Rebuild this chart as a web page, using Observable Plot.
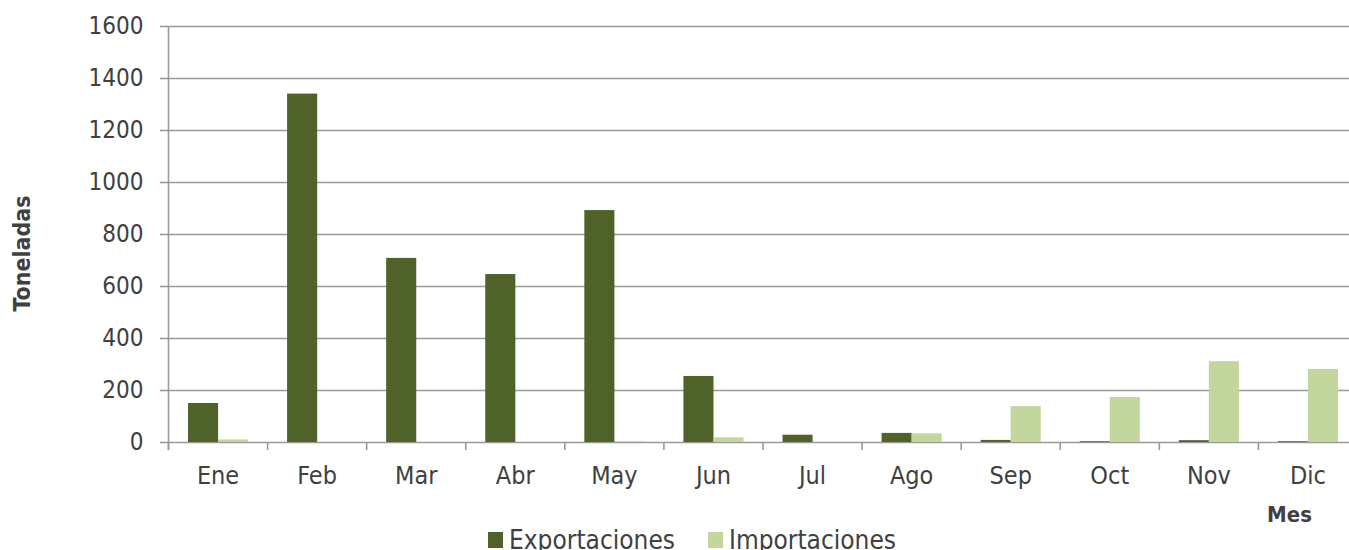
<!DOCTYPE html>
<html>
<head>
<meta charset="utf-8">
<script src="https://cdn.jsdelivr.net/npm/d3@7"></script>
<script src="https://cdn.jsdelivr.net/npm/@observablehq/plot@0.6"></script>
<style>
  html, body { margin: 0; padding: 0; background: #fff; overflow: hidden; }
  #chart { width: 1349px; height: 528px; overflow: hidden; }
  #chart svg { max-width: none !important; }
  #legend { position: relative; height: 30px; font-family: "DejaVu Sans Condensed", "DejaVu Sans", sans-serif; font-stretch: condensed; font-size: 26px; color: #404040; }
  .item { position: absolute; top: -2px; display: flex; align-items: center; height: 28px; }
  .sw { width: 15px; height: 16px; margin-right: 6px; }
</style>
</head>
<body>
<div id="chart"></div>
<div id="legend"></div>
<script>
const months = ["Ene","Feb","Mar","Abr","May","Jun","Jul","Ago","Sep","Oct","Nov","Dic"];
const exportaciones = [150, 1340, 708, 646, 892, 254, 28, 35, 8, 3, 7, 3];
const importaciones = [10, 0, 0, 0, 3, 18, 0, 33, 138, 173, 311, 281];
const yTicks = [0, 200, 400, 600, 800, 1000, 1200, 1400, 1600];
const series = ["Exportaciones", "Importaciones"];
const colors = ["#4F6228", "#C3D69B"];

const expData = months.map((m, i) => ({i, month: m, value: exportaciones[i]}));
const impData = months.map((m, i) => ({i, month: m, value: importaciones[i]}));
const bounds = d3.range(months.length + 1);
const centers = months.map((m, i) => i + 0.5);

const font = "'DejaVu Sans Condensed', 'DejaVu Sans', sans-serif";
const grid = "#9a9a9a";

const plot = Plot.plot({
  width: 1357,
  height: 528,
  marginLeft: 168,
  marginRight: 0,
  marginTop: 26,
  marginBottom: 86,
  style: {fontFamily: font, fontStretch: "condensed", fontSize: "24px", color: "#404040", background: "transparent", maxWidth: "none"},
  x: {type: "linear", domain: [0, months.length]},
  y: {domain: [0, 1600]},
  marks: [
    Plot.ruleY(yTicks, {stroke: grid, strokeWidth: 1.6}),
    Plot.rectY(expData, {x1: d => d.i, x2: d => d.i + 1, y: "value", fill: colors[0], insetLeft: 20, insetRight: 49}),
    Plot.rectY(impData, {x1: d => d.i, x2: d => d.i + 1, y: "value", fill: colors[1], insetLeft: 50, insetRight: 19}),
    Plot.ruleX([0], {stroke: grid, strokeWidth: 1.6, insetBottom: -8}),
    Plot.axisY({ticks: yTicks, tickSize: 8, tickPadding: 17, tickFormat: d => String(d), stroke: grid, strokeWidth: 1.6, label: null, fontSize: 24}),
    Plot.axisX({ticks: bounds, tickSize: 8, tickFormat: () => "", stroke: grid, strokeWidth: 1.6, label: null}),
    Plot.axisX({ticks: centers, tickSize: 0, tickPadding: 24, tickFormat: d => months[Math.floor(d)], label: null, fontSize: 25}),
    Plot.text(["Toneladas"], {frameAnchor: "left", textAnchor: "middle", dx: -146, dy: 19, rotate: -90, fontWeight: "bold", fontSize: 23, fill: "#404040"}),
    Plot.text(["Mes"], {frameAnchor: "bottom-right", dx: -68, dy: 79, fontWeight: "bold", fontSize: 22, fill: "#404040", textAnchor: "middle"})
  ]
});
document.getElementById("chart").appendChild(plot);

const legend = document.getElementById("legend");
const lefts = [488, 708];
series.forEach((s, k) => {
  const it = document.createElement("div");
  it.className = "item";
  it.style.left = lefts[k] + "px";
  it.innerHTML = `<span class="sw" style="background:${colors[k]}"></span><span>${s}</span>`;
  legend.appendChild(it);
});
</script>
</body>
</html>
